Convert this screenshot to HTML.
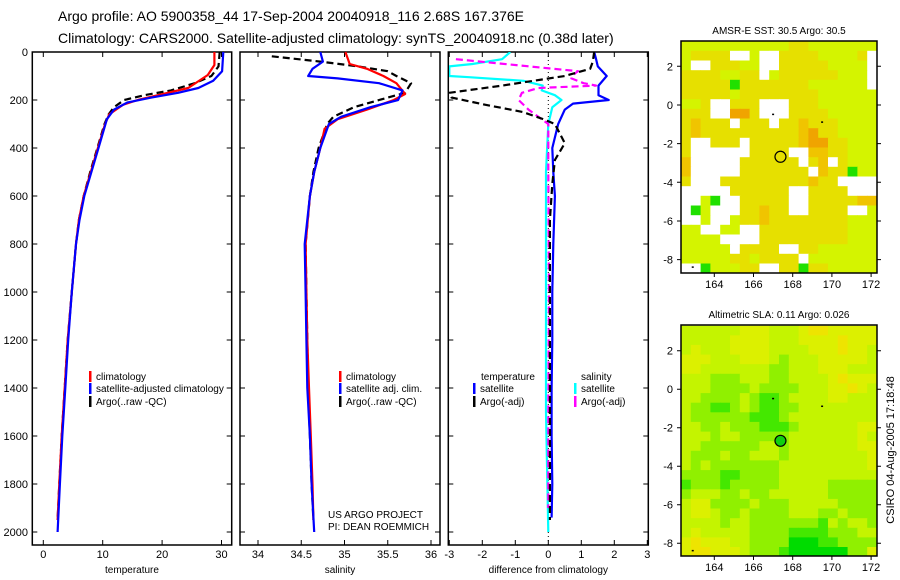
<!DOCTYPE html>
<html><head><meta charset="utf-8">
<style>
html,body{margin:0;padding:0;background:#fff;}
svg{display:block;font-family:"Liberation Sans",sans-serif;}
text{fill:#000;}
</style></head>
<body>
<svg id="chart" width="900" height="580" viewBox="0 0 900 580" xmlns="http://www.w3.org/2000/svg">
<text x="58" y="21" font-size="14">Argo profile: AO 5900358_44 17-Sep-2004 20040918_116 2.68S 167.376E</text>
<text x="58" y="43" font-size="14">Climatology: CARS2000. Satellite-adjusted climatology: synTS_20040918.nc (0.38d later)</text>
<g id="g1"></g>
<g id="g2"></g>
<g id="g3"></g>
<g id="m1"></g>
<g id="m2"></g>
<text transform="translate(894,450) rotate(-90)" text-anchor="middle" font-size="11">CSIRO 04-Aug-2005 17:18:48</text>
</svg>
<script>
// ---------- data ----------
const depthTicks=[0,200,400,600,800,1000,1200,1400,1600,1800,2000];
const tempTicks=[0,10,20,30];
const salTicks=[34,34.5,35,35.5,36];
const diffTicks=[-3,-2,-1,0,1,2,3];
// temperature profiles
const tClimDepth=[0,54,96,150,180,200,220,260,300,400,500,600,700,800,1000,1200,1400,1600,1800,1950];
const tClimVal=[28.8,28.8,27.7,24.4,19.3,15.9,13.4,11.1,10.4,9.2,8.0,6.8,6.0,5.5,4.8,4.1,3.6,3.1,2.7,2.4];
const tSatDepth=[0,80,120,150,170,190,210,240,280,400,500,600,700,800,1000,1200,1400,1600,1800,2000];
const tSatVal=[30.3,30.1,28.6,26.1,22.7,18.2,14.2,11.9,10.7,9.3,8.1,6.9,6.1,5.5,4.8,4.2,3.7,3.2,2.8,2.4];
const tArgoDepth=[0,60,100,130,160,180,200,230,260,300,400,500,600,700,800,1000,1200,1400,1600,1800,1950];
const tArgoVal=[29.7,29.5,28.3,25.5,21.5,17,13.6,11.9,11,10.3,9.1,7.9,6.8,6.0,5.5,4.8,4.1,3.6,3.1,2.7,2.4];
// salinity profiles
const sClimDepth=[0,50,70,100,130,175,200,240,280,320,400,500,600,800,1000,1200,1400,1600,1800,1950];
const sClimVal=[35.01,35.06,35.26,35.45,35.6,35.7,35.57,35.26,34.92,34.77,34.72,34.65,34.6,34.55,34.56,34.57,34.59,34.61,34.63,34.64];
const sSatDepth=[0,40,70,100,110,130,160,200,230,270,300,400,500,600,800,1000,1200,1400,1600,1800,2000];
const sSatVal=[34.72,34.75,34.63,34.58,34.92,35.4,35.67,35.62,35.3,34.96,34.82,34.72,34.65,34.6,34.54,34.55,34.56,34.57,34.6,34.62,34.65];
const sArgoDepth=[18,40,60,80,100,130,170,200,230,270,300,400,500,600,800,1000,1200,1400,1600,1800,1950];
const sArgoVal=[34.16,34.72,35.16,35.5,35.6,35.77,35.7,35.4,35.11,34.87,34.8,34.7,34.64,34.6,34.55,34.56,34.57,34.58,34.6,34.62,34.64];
// differences from climatology
const dTSatDepth=[0,30,60,100,140,180,200,215,240,300,400,500,600,800,1000,1200,1400,1600,1800,1940];
const dTSatVal=[1.39,1.45,1.5,1.77,1.52,1.52,1.83,0.75,0.5,0.3,0.12,0.15,0.2,0.15,0.12,0.12,0.1,0.1,0.12,0.1];
const dTArgoDepth=[0,40,70,100,140,170,190,220,250,280,300,380,450,550,700,1000,1400,1800,1950];
const dTArgoVal=[1.39,1.35,1.27,0.5,-1.4,-3,-2.93,-1.9,-0.77,-0.15,0.2,0.5,0.2,0.12,0.05,0.05,0.05,0.05,0.05];
const dSSatDepth=[0,30,50,60,100,105,120,140,160,180,200,230,300,500,1000,1500,2000];
const dSSatVal=[-1.15,-1.4,-2.3,-3,-3,-2.4,-0.75,-0.17,-0.2,0.2,0.4,0.12,0.0,-0.07,-0.07,-0.07,0];
const dSArgoDepth=[30,80,90,110,130,140,150,170,200,240,270,300,500,1000,1500,1900];
const dSArgoVal=[-2.8,0.9,0.8,0.7,1.07,1.45,-0.3,-0.8,-0.9,-0.6,-0.3,0,0,0.02,0,0];
// map grids (rows lat 3.3 -> -8.7, cols lon 162.3 -> 172.3, 0.5 deg cells)
const sstRows=[
"gggggggggggyyggggggg","gyyyyWWgWWyyyyggggyW","gWWyyyggWWyyyyyggggW","yyyyggyyWgyyyyyygggW",
"yyyyyGyyyyyyyggggggW","yyyyygyyyyyyyyggggggg","ggyWWyyyWWWyyygggggg","yyyWWOOyWWWyyyyggggg",
"yoyyyWyyyWyyoyyygggg","yoyyyyyyyyyyoOyygggg","yWWyyyWyyyyyoOOyyggg","yWWWWWWyyyyWWooyyggg",
"oWWWWWyyyyyyWyoWyggg","oWWWWWyyyyyyyWoyyGgg","yWWWyyyyyyyyyoyyWWWW","WWWWWyyyyyyWWyyyyWWW",
"WWgGWWyyyyyWWyyyyyoo","WGgWWWyyoyyWWyyyyWWg","WWgWWgyyoyyyyyyyyggg","ggWWggWWyyyyyyyyyggg",
"ggggWWWWyyyyyyyyyggg","gggggWyyyyWWyygggggg","gggggyygyyyyWggggggg","WWGgggyyWWyyGyyggggg"];
const slaRows=[
"ddddddeeedddeffeeeee","dddddeeeedddeeeefeee","dedddeeeeddddeeefeed","eeedddeeedcdddeeeeed",
"eedddddddccdddeeeddd","dddcccdddccddddefeee","dddccccdccccdddeefed","ddccccdcbbcddddeeddd",
"dccbbcdcbbccdddddddd","dccccccbbbcddddddddd","ddccdcccbbbcddddddee","dddcddcccccddddddded",
"ddccccccddcdddddddee","dcccdccdddcdddddddde","dcdcccccccddddddddde","ccccbbccccdddddddddd",
"bcccbcccccdddddccccc","cdddccdccddddddccccc","deeccccdcccdddddcccc","deedccdccccdddccdccc",
"ddddcddcccccccbdcddc","dedddddccccbbbbcccdd","efeeeddccccaaabbcccc","effeeedcccbaaaaaacce"];
const lonTicks=[164,166,168,170,172];
const latTicks=[2,0,-2,-4,-6,-8];
const argoLon=167.376, argoLat=-2.68;
const floatLons=[167.0,169.5,162.9];
const floatLats=[-0.5,-0.9,-8.4];

// ---------- helpers ----------
const NS="http://www.w3.org/2000/svg";
function mk(parent,tag,attrs){const e=document.createElementNS(NS,tag);for(const k in attrs)e.setAttribute(k,attrs[k]);parent.appendChild(e);return e;}
const yTop=52,yBot=545;
function yD(d){return 52+d*0.24;}

function panel(g,x0,x1,xScale,ticks,fmt,label,showY,name){
  const fr=mk(g,'rect',{x:x0,y:yTop,width:x1-x0,height:yBot-yTop,fill:'none',stroke:'#000','stroke-width':1.5});
  
  
  ticks.forEach(t=>{const x=xScale(t);
    const l=mk(g,'path',{d:`M${x} ${yTop}v5M${x} ${yBot}v-5`,stroke:'#000','stroke-width':1});
    
    
    const tx=mk(g,'text',{x:x,y:558,'font-size':11,'text-anchor':'middle'});tx.textContent=fmt(t);
    
    
  });
  depthTicks.forEach(d=>{const y=yD(d);
    const l=mk(g,'path',{d:`M${x0} ${y}h5M${x1} ${y}h-5`,stroke:'#000','stroke-width':1});
    
    
    if(showY){const tx=mk(g,'text',{x:28,y:y+4,'font-size':11,'text-anchor':'end'});tx.textContent=d;
      
      }
  });
  const at=mk(g,'text',{x:(x0+x1)/2,y:573,'font-size':10,'text-anchor':'middle'});at.textContent=label;
  
  
}
function line(g,depths,vals,xs,color,dash,name,clip){
  const pts=depths.map((d,i)=>xs(vals[i]).toFixed(1)+','+yD(d).toFixed(1)).join(' ');
  const a={points:pts,fill:'none',stroke:color,'stroke-width':2.2,'stroke-linejoin':'round'};
  if(dash)a['stroke-dasharray']=dash;
  if(clip)a['clip-path']=clip;
  const p=mk(g,'polyline',a);
  
  
}
function legend(g,x,y,color,text,name){
  if(color){const b=mk(g,'rect',{x:x,y:y-9,width:2.5,height:11,fill:color});
    
    }
  const t=mk(g,'text',{x:x+7,y:y,'font-size':10});t.textContent=text;
  
  
}
const defs=mk(document.getElementById('chart'),'defs',{});
const cp=mk(defs,'clipPath',{id:'c3'});mk(cp,'rect',{x:449,y:52,width:199,height:493});

// ---------- panel 1 ----------
const g1=document.getElementById('g1');
const xT=v=>43.3+v*5.94;
panel(g1,32.3,231.7,xT,tempTicks,t=>t,'temperature',true,'temperature');
line(g1,tArgoDepth,tArgoVal,xT,'#000',"7 4",'temperature-argo-line');
line(g1,tClimDepth,tClimVal,xT,'#ff0000',null,'temperature-climatology-line');
line(g1,tSatDepth,tSatVal,xT,'#0000ff',null,'temperature-satellite-line');
legend(g1,89,380,'#ff0000','climatology','legend-climatology');
legend(g1,89,392,'#0000ff','satellite-adjusted climatology','legend-satellite');
legend(g1,89,405,'#000','Argo(..raw -QC)','legend-argo');

// ---------- panel 2 ----------
const g2=document.getElementById('g2');
const xS=v=>258+(v-34)*86.5;
panel(g2,240,440,xS,salTicks,t=>t,'salinity',false,'salinity');
line(g2,sArgoDepth,sArgoVal,xS,'#000',"7 4",'salinity-argo-line');
line(g2,sClimDepth,sClimVal,xS,'#ff0000',null,'salinity-climatology-line');
line(g2,sSatDepth,sSatVal,xS,'#0000ff',null,'salinity-satellite-line');
legend(g2,339,380,'#ff0000','climatology','legend-climatology');
legend(g2,339,392,'#0000ff','satellite adj. clim.','legend-satellite');
legend(g2,339,405,'#000','Argo(..raw -QC)','legend-argo');
const n1=mk(g2,'text',{x:328,y:518,'font-size':10});n1.textContent='US ARGO PROJECT';


const n2=mk(g2,'text',{x:328,y:530,'font-size':10});n2.textContent='PI: DEAN ROEMMICH';



// ---------- panel 3 ----------
const g3=document.getElementById('g3');
const xDf=v=>548.3+v*33;
panel(g3,448.3,648.3,xDf,diffTicks,t=>t,'difference from climatology',false,'difference');
const zl=mk(g3,'line',{x1:548.3,y1:52,x2:548.3,y2:545,stroke:'#000','stroke-width':1,'stroke-dasharray':'1 3'});


line(g3,dSSatDepth,dSSatVal,xDf,'#00ffff',null,'salinity-satellite-diff-line','url(#c3)');
line(g3,dTSatDepth,dTSatVal,xDf,'#0000ff',null,'temperature-satellite-diff-line','url(#c3)');
line(g3,dSArgoDepth,dSArgoVal,xDf,'#ff00ff',"7 4",'salinity-argo-diff-line','url(#c3)');
line(g3,dTArgoDepth,dTArgoVal,xDf,'#000',"7 4",'temperature-argo-diff-line','url(#c3)');
legend(g3,474,380,null,'temperature','legend-temperature-heading');
legend(g3,473,392,'#0000ff','satellite','legend-temperature-satellite');
legend(g3,473,405,'#000','Argo(-adj)','legend-temperature-argo');
legend(g3,574,380,null,'salinity','legend-salinity-heading');
legend(g3,574,392,'#00ffff','satellite','legend-salinity-satellite');
legend(g3,574,405,'#ff00ff','Argo(-adj)','legend-salinity-argo');

// ---------- maps ----------
const sstColors={g:'#d4f400',y:'#e6e000',o:'#f0c400',O:'#f0a400',G:'#20e000',W:'#ffffff'};
const slaColors={a:'#00dc00',b:'#44e800',c:'#90f000',d:'#c4f400',e:'#dcf000',f:'#eee400'};
function drawMap(g,rows,colors,top,bot,lat2y,title,name,filled){
  const x0=681,x1=877;
  const lx=lon=>714.3+(lon-164)*19.6;
  const ly=lat=>lat2y+(2-lat)*((bot-top)/12.0);
  rows.forEach((row,r)=>{[...row].forEach((ch,c)=>{
    const lon=162.3+c*0.5, lat=3.3-r*0.5;
    const xa=lx(lon),xb=lx(lon+0.5),ya=ly(lat),yb=ly(lat-0.5);
    const cell=mk(g,'rect',{x:xa.toFixed(1),y:ya.toFixed(1),width:(Math.min(xb,x1)-xa+0.5).toFixed(1),height:(Math.min(yb,bot)-ya+0.5).toFixed(1),fill:colors[ch]||'#fff'});
    
    
  });});
  const fr=mk(g,'rect',{x:x0,y:top,width:x1-x0,height:bot-top,fill:'none',stroke:'#000','stroke-width':1.5});
  
  
  lonTicks.forEach(t=>{const x=lx(t);
    const l=mk(g,'path',{d:`M${x} ${bot}v4`,stroke:'#000'});
    
    
    const tx=mk(g,'text',{x:x,y:bot+15,'font-size':11,'text-anchor':'middle'});tx.textContent=t;
    
    });
  latTicks.forEach(t=>{const y=ly(t);
    const l=mk(g,'path',{d:`M${x0} ${y}h-4M${x1} ${y}h4`,stroke:'#000'});
    
    
    const tx=mk(g,'text',{x:673,y:y+4,'font-size':11,'text-anchor':'end'});tx.textContent=t;
    
    });
  const tt=mk(g,'text',{x:779,y:top-7,'font-size':10,'text-anchor':'middle'});tt.textContent=title;
  
  
  floatLons.forEach((lo,i)=>{const d=mk(g,'rect',{x:lx(lo)-1,y:ly(floatLats[i])-1,width:2,height:1.5,fill:'#000'});
    
    });
  const m=mk(g,'circle',{cx:lx(argoLon),cy:ly(argoLat),r:5.5,fill:filled?'#10d010':'none',stroke:'#000','stroke-width':1.2});
  
  
}
drawMap(document.getElementById('m1'),sstRows,sstColors,41,273,66.3,'AMSR-E SST: 30.5 Argo: 30.5','sst-map',false);
drawMap(document.getElementById('m2'),slaRows,slaColors,325,556,350.7,'Altimetric SLA: 0.11 Argo: 0.026','sla-map',true);
</script>
</body></html>
